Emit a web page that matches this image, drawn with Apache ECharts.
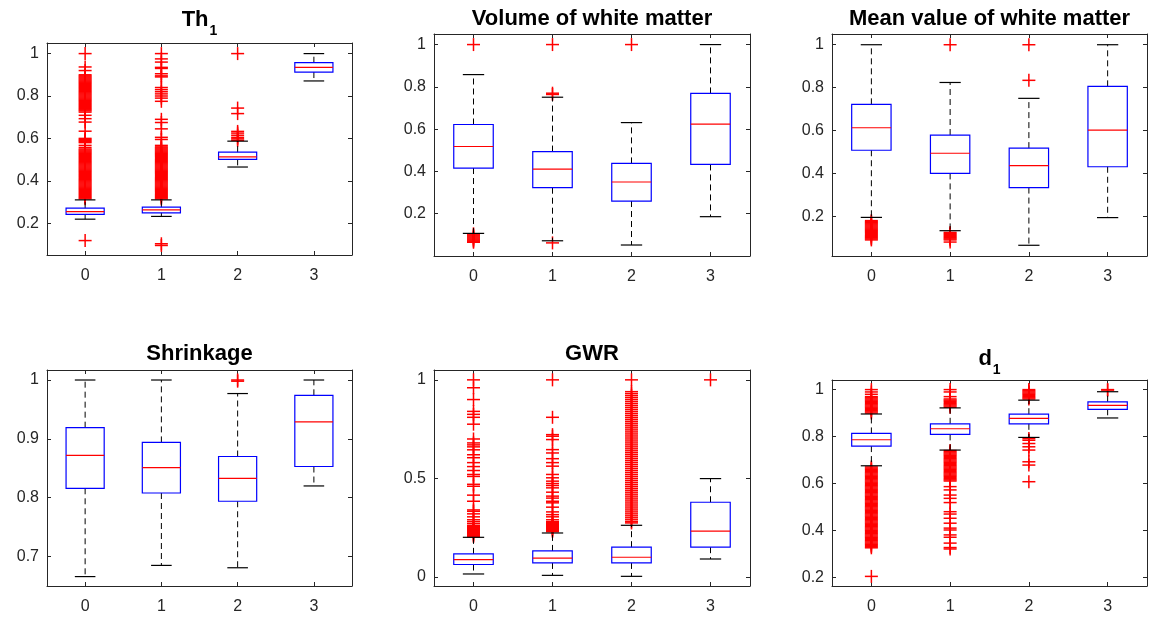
<!DOCTYPE html>
<html>
  <head>
    <meta charset="utf-8" />
    <title>Boxplots</title>
    <script src="https://cdn.jsdelivr.net/npm/echarts@6/dist/echarts.min.js"></script>
    <style>
      html, body { margin: 0; padding: 0; background: #fff; }
      #main { width: 1157px; height: 618px; }
    </style>
  </head>
  <body>
    <div id="main"></div>
    <script type="text/javascript">
      // categories on every x axis
      var categories = ["0", "1", "2", "3"];

      // box stats per group: [lower whisker, Q1, median, Q3, upper whisker]
      var th1Box = [
        [0.219, 0.242, 0.255, 0.271, 0.310],
        [0.232, 0.249, 0.263, 0.276, 0.310],
        [0.465, 0.501, 0.513, 0.535, 0.587],
        [0.871, 0.913, 0.935, 0.957, 1.0]
      ];
      var th1Outliers = [
        [0.118, 1.0, 0.937, 0.92, 0.90, 0.895, 0.89, 0.885, 0.88, 0.875, 0.87, 0.865, 0.86, 0.855, 0.85, 0.845, 0.84, 0.835, 0.83, 0.825,
          0.82, 0.815, 0.81, 0.805, 0.80, 0.795, 0.79, 0.785, 0.78, 0.775, 0.77, 0.765, 0.76, 0.755, 0.75, 0.745, 0.74, 0.735, 0.73, 0.724,
          0.709, 0.693, 0.677, 0.634, 0.60, 0.595, 0.59, 0.585, 0.58, 0.567, 0.557,
          0.55, 0.545, 0.54, 0.535, 0.53, 0.525, 0.52, 0.515, 0.51, 0.505, 0.50, 0.495, 0.49, 0.485, 0.48, 0.475, 0.47, 0.465, 0.46, 0.455,
          0.45, 0.445, 0.44, 0.435, 0.43, 0.425, 0.42, 0.415, 0.41, 0.405, 0.40, 0.395, 0.39, 0.385, 0.38, 0.375, 0.37, 0.365, 0.36, 0.355,
          0.35, 0.345, 0.34, 0.335, 0.33, 0.325, 0.32, 0.315],
        [0.103, 0.095, 1.0, 0.975, 0.96, 0.935, 0.93, 0.905, 0.895, 0.89, 0.84, 0.83, 0.82, 0.81, 0.80, 0.79, 0.775, 0.69, 0.675, 0.645, 0.605, 0.595,
          0.567, 0.56, 0.555, 0.55, 0.545, 0.54, 0.535, 0.53, 0.525, 0.52, 0.515, 0.51, 0.505, 0.50, 0.495, 0.49, 0.485, 0.48, 0.475, 0.47,
          0.465, 0.46, 0.455, 0.45, 0.445, 0.44, 0.435, 0.43, 0.425, 0.42, 0.415, 0.41, 0.405, 0.40, 0.395, 0.39, 0.385, 0.38, 0.375, 0.37,
          0.365, 0.36, 0.355, 0.35, 0.345, 0.34, 0.335, 0.33, 0.325, 0.32, 0.315],
        [1.0, 0.743, 0.717, 0.633, 0.625, 0.615, 0.605, 0.598, 0.591],
        []
      ];

      var volumeBox = [
        [0.107, 0.416, 0.518, 0.622, 0.858],
        [0.072, 0.323, 0.411, 0.494, 0.751],
        [0.052, 0.260, 0.350, 0.438, 0.631],
        [0.186, 0.433, 0.624, 0.769, 1.0]
      ];
      var volumeOutliers = [
        [1.0, 0.105, 0.10, 0.095, 0.09, 0.085, 0.08, 0.075, 0.07, 0.065],
        [1.0, 0.77, 0.764, 0.062],
        [1.0],
        []
      ];

      var meanBox = [
        [0.195, 0.508, 0.613, 0.722, 1.0],
        [0.133, 0.400, 0.494, 0.579, 0.824],
        [0.065, 0.334, 0.436, 0.518, 0.750],
        [0.194, 0.431, 0.602, 0.806, 1.0]
      ];
      var meanOutliers = [
        [0.18, 0.175, 0.17, 0.165, 0.16, 0.155, 0.15, 0.145, 0.14, 0.135, 0.13, 0.125, 0.12, 0.115, 0.11, 0.105, 0.10, 0.095, 0.09],
        [1.0, 0.125, 0.12, 0.115, 0.11, 0.105, 0.10, 0.095, 0.09, 0.08],
        [1.0, 0.834],
        []
      ];

      var shrinkBox = [
        [0.666, 0.816, 0.872, 0.919, 1.0],
        [0.685, 0.808, 0.851, 0.894, 1.0],
        [0.681, 0.794, 0.833, 0.870, 0.977],
        [0.820, 0.853, 0.929, 0.974, 1.0]
      ];
      var shrinkOutliers = [
        [],
        [],
        [1.0, 0.998],
        []
      ];

      var gwrBox = [
        [0.015, 0.063, 0.088, 0.117, 0.201],
        [0.008, 0.071, 0.095, 0.132, 0.223],
        [0.003, 0.071, 0.100, 0.151, 0.262],
        [0.091, 0.151, 0.232, 0.379, 0.499]
      ];
      var gwrOutliers = [
        [1.0, 0.96, 0.90, 0.84, 0.825, 0.81, 0.775, 0.70, 0.68, 0.67, 0.66, 0.645, 0.62, 0.605, 0.58, 0.56, 0.54, 0.52, 0.51, 0.47, 0.46,
          0.415, 0.384, 0.34, 0.333, 0.32, 0.305, 0.29, 0.28, 0.27, 0.26, 0.255, 0.25, 0.245, 0.24, 0.235, 0.23, 0.225, 0.22, 0.215, 0.21, 0.205],
        [1.0, 0.81, 0.722, 0.714, 0.697, 0.646, 0.629, 0.60, 0.58, 0.562, 0.52, 0.503, 0.486, 0.474, 0.464, 0.452, 0.43, 0.41, 0.40, 0.384,
          0.376, 0.354, 0.33, 0.316, 0.305, 0.29, 0.28, 0.275, 0.27, 0.265, 0.26, 0.255, 0.25, 0.245, 0.24, 0.235, 0.23],
        [1.0, 0.94, 0.93, 0.92, 0.91, 0.90, 0.89, 0.88, 0.87, 0.86, 0.85, 0.84, 0.83, 0.82, 0.81, 0.80, 0.79, 0.78, 0.77, 0.76, 0.75, 0.74,
          0.73, 0.72, 0.71, 0.70, 0.69, 0.68, 0.67, 0.66, 0.65, 0.64, 0.63, 0.62, 0.61, 0.60, 0.59, 0.58, 0.57, 0.56, 0.55, 0.54, 0.53, 0.52,
          0.51, 0.50, 0.49, 0.48, 0.47, 0.46, 0.45, 0.44, 0.43, 0.42, 0.41, 0.40, 0.39, 0.38, 0.37, 0.36, 0.35, 0.34, 0.33, 0.32, 0.31, 0.30,
          0.29, 0.28, 0.274],
        [1.0]
      ];

      var d1Box = [
        [0.675, 0.759, 0.786, 0.813, 0.896],
        [0.742, 0.809, 0.833, 0.854, 0.922],
        [0.796, 0.854, 0.877, 0.895, 0.955],
        [0.879, 0.916, 0.933, 0.948, 0.991]
      ];
      var d1Outliers = [
        [1.0, 0.99, 0.98, 0.97, 0.965, 0.96, 0.955, 0.95, 0.945, 0.94, 0.935, 0.93, 0.925, 0.92, 0.915, 0.91, 0.905, 0.90,
          0.67, 0.665, 0.66, 0.655, 0.65, 0.645, 0.64, 0.635, 0.63, 0.625, 0.62, 0.615, 0.61, 0.605, 0.60, 0.595, 0.59, 0.585, 0.58,
          0.575, 0.57, 0.565, 0.56, 0.555, 0.55, 0.545, 0.54, 0.535, 0.53, 0.525, 0.52, 0.515, 0.51, 0.505, 0.50, 0.495, 0.49, 0.485,
          0.48, 0.475, 0.47, 0.465, 0.46, 0.455, 0.45, 0.445, 0.44, 0.435, 0.43, 0.425, 0.42, 0.415, 0.41, 0.405, 0.40, 0.395, 0.39,
          0.385, 0.38, 0.375, 0.37, 0.365, 0.36, 0.355, 0.35, 0.345, 0.34, 0.335, 0.33, 0.325, 0.203],
        [1.0, 0.99, 0.97, 0.96, 0.955, 0.95, 0.945, 0.94, 0.935, 0.93, 0.925,
          0.74, 0.735, 0.73, 0.725, 0.72, 0.715, 0.71, 0.705, 0.70, 0.695, 0.69, 0.685, 0.68, 0.675, 0.67, 0.665, 0.66, 0.655, 0.65,
          0.645, 0.64, 0.635, 0.63, 0.625, 0.62, 0.615, 0.61,
          0.586, 0.572, 0.55, 0.536, 0.518, 0.479, 0.469, 0.451, 0.43, 0.409, 0.401, 0.38, 0.37, 0.345, 0.326, 0.32],
        [1.0, 0.995, 0.99, 0.985, 0.98, 0.975, 0.97, 0.965, 0.96, 0.791, 0.784, 0.77, 0.756, 0.742, 0.692, 0.678, 0.607],
        [1.0, 0.998]
      ];

      // y ranges and tick steps
      var yMin = [0.05, 0.0, 0.015, 0.65, -0.046, 0.162];
      var yMax = [1.05, 1.05, 1.05, 1.017, 1.05, 1.041];
      var yStep = [0.2, 0.2, 0.2, 0.1, 0.5, 0.2];

      var panels = [
        { title: "{m|Th}{s|1}", box: th1Box, out: th1Outliers },
        { title: "{m|Volume of white matter}", box: volumeBox, out: volumeOutliers },
        { title: "{m|Mean value of white matter}", box: meanBox, out: meanOutliers },
        { title: "{m|Shrinkage}", box: shrinkBox, out: shrinkOutliers },
        { title: "{m|GWR}", box: gwrBox, out: gwrOutliers },
        { title: "{m|d}{s|1}", box: d1Box, out: d1Outliers }
      ];

      // layout of the six axes boxes (px)
      var grids = [
        { left: 47, top: 43, width: 305, height: 212 },
        { left: 434, top: 34, width: 316, height: 222 },
        { left: 832, top: 34, width: 315, height: 222 },
        { left: 47, top: 370, width: 305, height: 216 },
        { left: 434, top: 370, width: 316, height: 216 },
        { left: 832, top: 380, width: 315, height: 206 }
      ];
      var titleTops = [9, 8, 8, 343, 343, 348];

      var axisColor = "#262626";
      var fontFamily = "'Liberation Sans', Arial, Helvetica, sans-serif";

      function renderBox(params, api) {
        var x = api.value(0);
        var band = api.size([1, 0])[0];
        var hw = band * 0.25;
        var cw = band * 0.135;
        var low = api.coord([x, api.value(1)]);
        var q1 = api.coord([x, api.value(2)]);
        var med = api.coord([x, api.value(3)]);
        var q3 = api.coord([x, api.value(4)]);
        var high = api.coord([x, api.value(5)]);
        var cx = low[0];
        var dash = { stroke: "#000", lineWidth: 1, lineDash: [6, 4] };
        var solid = { stroke: "#000", lineWidth: 1.2 };
        return {
          type: "group",
          children: [
            { type: "line", shape: { x1: cx, y1: q3[1], x2: cx, y2: high[1] }, style: dash },
            { type: "line", shape: { x1: cx, y1: q1[1], x2: cx, y2: low[1] }, style: dash },
            { type: "line", shape: { x1: cx - cw, y1: high[1], x2: cx + cw, y2: high[1] }, style: solid },
            { type: "line", shape: { x1: cx - cw, y1: low[1], x2: cx + cw, y2: low[1] }, style: solid },
            { type: "rect", shape: { x: cx - hw, y: q3[1], width: hw * 2, height: q1[1] - q3[1] },
              style: { fill: "none", stroke: "#0000ff", lineWidth: 1.2 } },
            { type: "line", shape: { x1: cx - hw, y1: med[1], x2: cx + hw, y2: med[1] },
              style: { stroke: "#ff0000", lineWidth: 1.2 } }
          ]
        };
      }

      function renderPlus(params, api) {
        var p = api.coord([api.value(0), api.value(1)]);
        var s = 6.5;
        var st = { stroke: "#ff0000", lineWidth: 1.5 };
        return {
          type: "group",
          children: [
            { type: "line", shape: { x1: p[0] - s, y1: p[1], x2: p[0] + s, y2: p[1] }, style: st },
            { type: "line", shape: { x1: p[0], y1: p[1] - s, x2: p[0], y2: p[1] + s }, style: st }
          ]
        };
      }

      var option = {
        animation: false,
        backgroundColor: "#fff",
        title: [],
        grid: [],
        xAxis: [],
        yAxis: [],
        series: []
      };

      panels.forEach(function (pn, i) {
        var g = grids[i];
        option.grid.push({ left: g.left, top: g.top, width: g.width, height: g.height, show: false });
        option.title.push({
          text: pn.title,
          left: g.left + g.width / 2,
          top: titleTops[i],
          textAlign: "center",
          padding: 0,
          textStyle: {
            rich: {
              m: { fontFamily: fontFamily, fontSize: 22, fontWeight: "bold", color: "#000", lineHeight: 24, verticalAlign: "top" },
              s: { fontFamily: fontFamily, fontSize: 14, fontWeight: "bold", color: "#000", lineHeight: 16, verticalAlign: "top", padding: [15, 0, 0, 1] }
            }
          }
        });
        var tick = { show: true, inside: true, length: 4, alignWithLabel: true, lineStyle: { color: axisColor, width: 1 } };
        var line = { show: true, onZero: false, lineStyle: { color: axisColor, width: 1 } };
        option.xAxis.push({
          gridIndex: i, type: "category", data: categories, position: "bottom",
          axisLine: line, axisTick: tick, splitLine: { show: false },
          axisLabel: { color: axisColor, fontSize: 16, fontFamily: fontFamily, margin: 13 }
        });
        option.xAxis.push({
          gridIndex: i, type: "category", data: categories, position: "top",
          axisLine: line, axisTick: tick, splitLine: { show: false }, axisLabel: { show: false }
        });
        var yBase = {
          gridIndex: i, type: "value", min: yMin[i], max: yMax[i],
          minInterval: yStep[i], maxInterval: yStep[i],
          splitNumber: Math.round((yMax[i] - yMin[i]) / yStep[i]),
          axisLine: line, axisTick: { show: true, inside: true, length: 4, lineStyle: { color: axisColor, width: 1 } },
          splitLine: { show: false }
        };
        var yl = Object.assign({}, yBase, {
          position: "left",
          axisLabel: { color: axisColor, fontSize: 16, fontFamily: fontFamily, margin: 8, showMinLabel: false, showMaxLabel: false }
        });
        var yr = Object.assign({}, yBase, { position: "right", axisLabel: { show: false } });
        option.yAxis.push(yl);
        option.yAxis.push(yr);

        var outData = [];
        pn.out.forEach(function (vals, k) {
          vals.forEach(function (v) { outData.push([k, v]); });
        });
        var boxData = pn.box.map(function (b, k) { return [k].concat(b); });

        option.series.push({
          type: "custom", xAxisIndex: i * 2, yAxisIndex: i * 2,
          renderItem: renderPlus, data: outData, encode: { x: 0, y: 1 }, z: 2, silent: true
        });
        option.series.push({
          type: "custom", xAxisIndex: i * 2, yAxisIndex: i * 2,
          renderItem: renderBox, data: boxData, encode: { x: 0, y: [1, 2, 3, 4, 5] }, z: 3, silent: true
        });
      });

      var myChart = echarts.init(document.getElementById("main"));
      myChart.setOption(option);
    </script>
  </body>
</html>
